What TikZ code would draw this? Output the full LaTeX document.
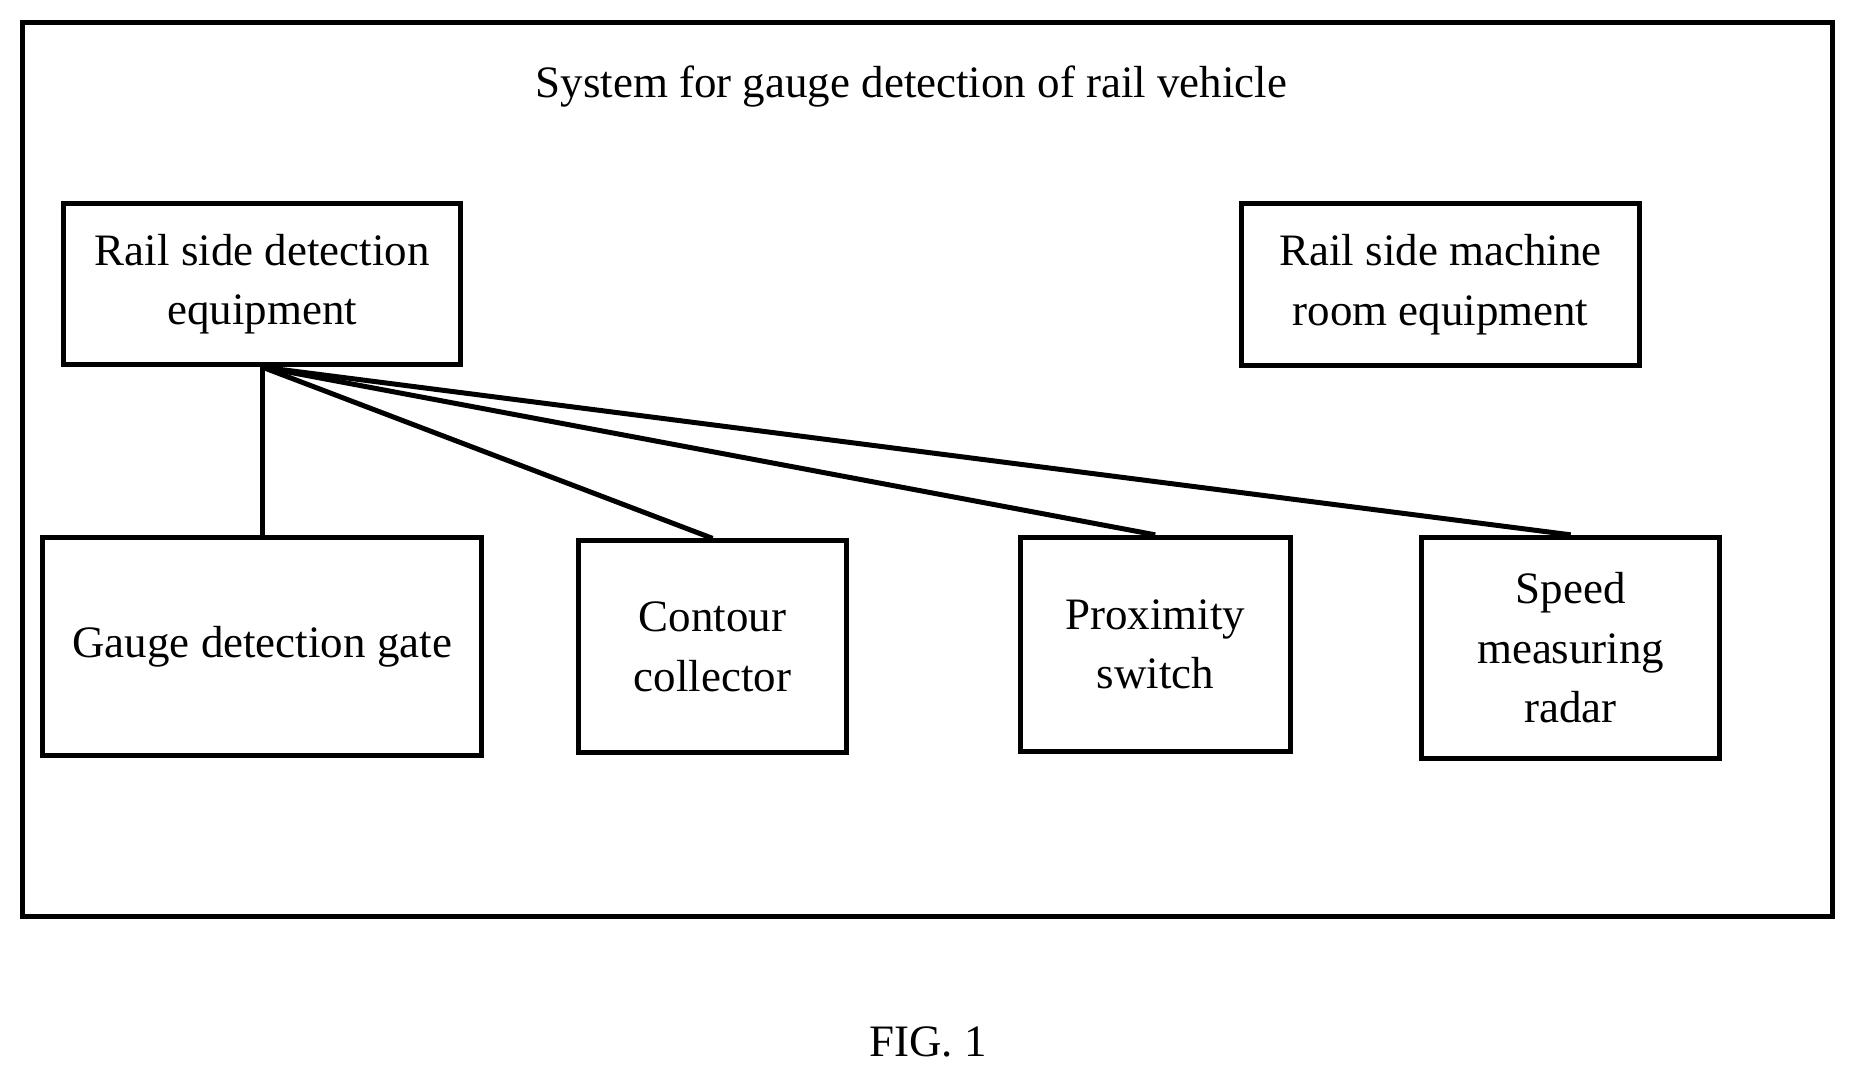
\documentclass[tikz,border=0pt]{standalone}
\usepackage{fontspec}
\setmainfont{Liberation Serif}
\begin{document}
\begin{tikzpicture}[x=0.01cm,y=-0.01cm,
  box/.style={draw,line width=1.2pt,inner sep=0pt,align=center,font=\fontsize{10.8}{14.3}\selectfont},
  conn/.style={line width=1.2pt}]
\useasboundingbox (0,0) rectangle (1568,912);
\draw[line width=1.2pt] (19,19) rectangle (1548,774);
\node[font=\fontsize{10.8}{12}\selectfont] (title) at (770,73) {System for gauge detection of rail vehicle};
\node[box,minimum width=3.35cm,minimum height=1.36cm] (rsd) at (221.5,240) {Rail side detection\\equipment};
\node[box,minimum width=3.36cm,minimum height=1.37cm] (rsm) at (1217,240.5) {Rail side machine\\room equipment};
\node[box,minimum width=3.71cm,minimum height=1.84cm] (gate) at (221.5,546) {Gauge detection gate};
\node[box,minimum width=2.26cm,minimum height=1.79cm] (cont) at (602,546.5) {Contour\\collector};
\node[box,minimum width=2.28cm,minimum height=1.81cm] (prox) at (976,544.5) {Proximity\\switch};
\node[box,minimum width=2.52cm,minimum height=1.87cm] (radar) at (1327,547.5) {Speed\\measuring\\radar};
\draw[conn] (rsd.south) -- (gate.north);
\draw[conn] (rsd.south) -- (cont.north);
\draw[conn] (rsd.south) -- (prox.north);
\draw[conn] (rsd.south) -- (radar.north);
\node[font=\fontsize{10.8}{12}\selectfont] (fig) at (784,880) {FIG. 1};
\end{tikzpicture}
\end{document}
